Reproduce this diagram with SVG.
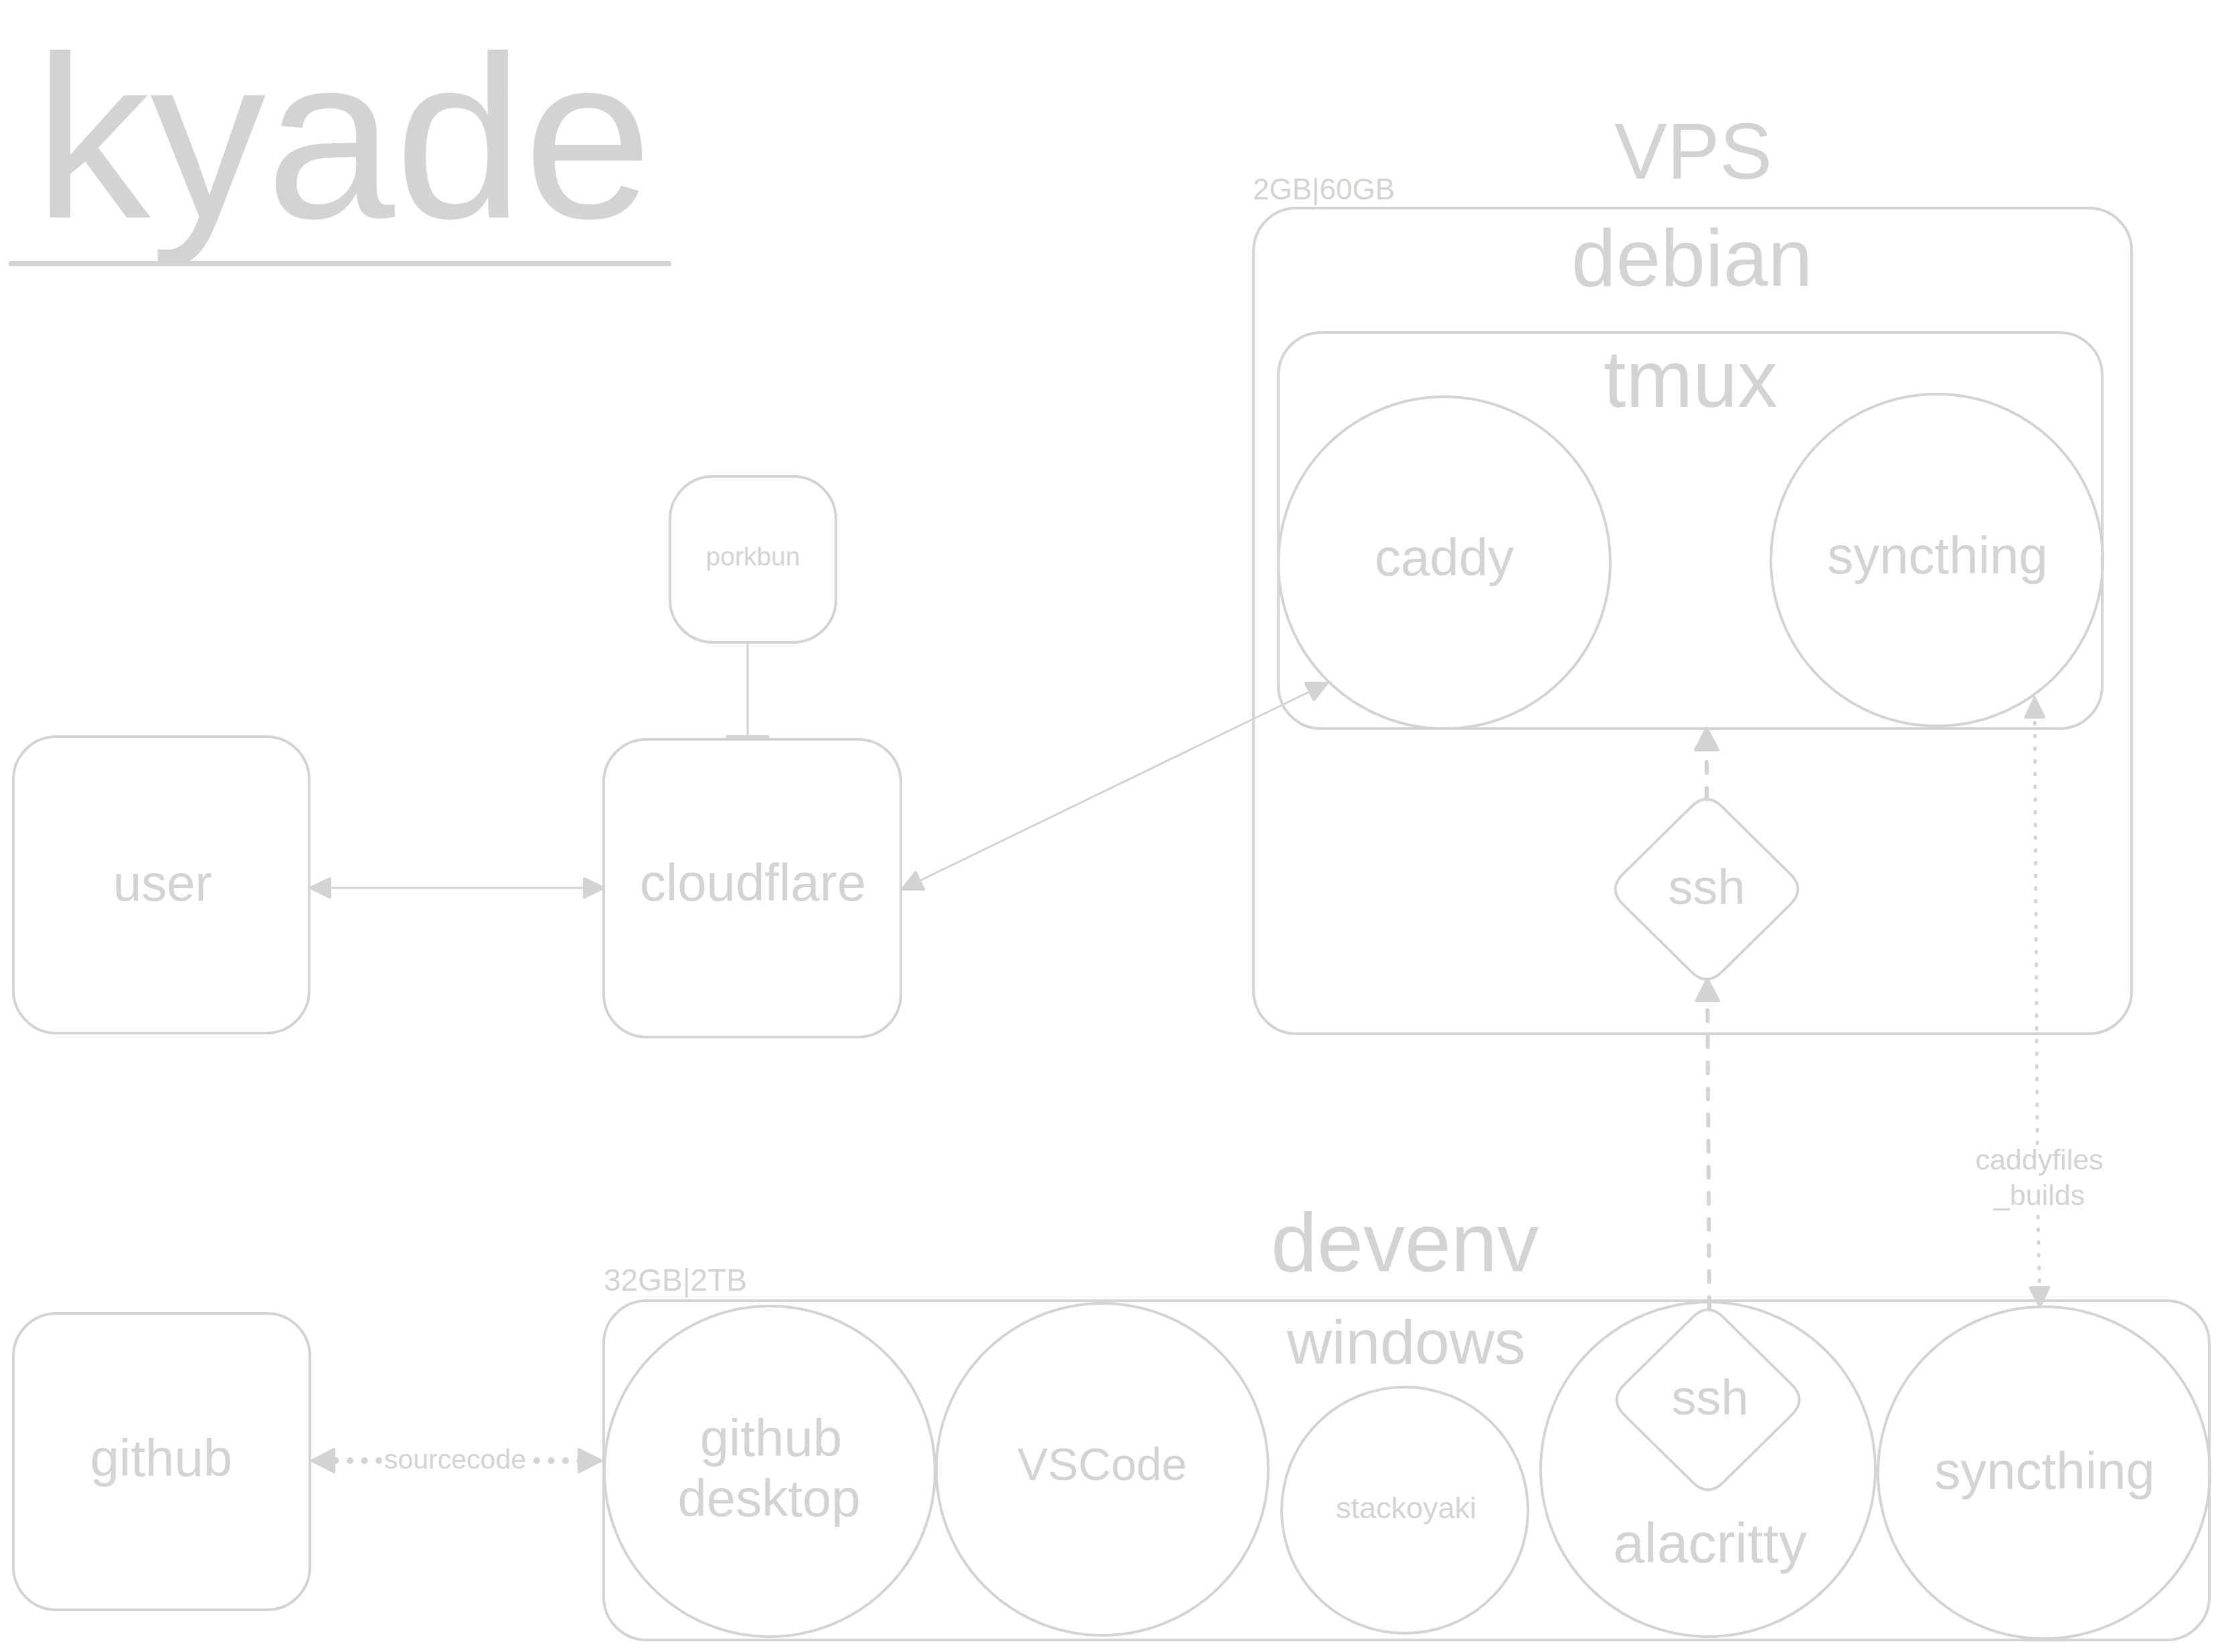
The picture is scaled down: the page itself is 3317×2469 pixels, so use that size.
<svg xmlns="http://www.w3.org/2000/svg" width="3317" height="2469" viewBox="0 0 3317 2469">
<style>
  .shape { fill: none; stroke: #d3d3d3; stroke-width: 4; }
  .t { fill: #d3d3d3; font-family: "Liberation Sans", Arial, sans-serif; text-anchor: middle; }
  .ts { fill: #d3d3d3; font-family: "Liberation Sans", Arial, sans-serif; text-anchor: start; }
  .thin { fill: none; stroke: #d3d3d3; stroke-width: 3; stroke-linecap: round; }
  .dash { fill: none; stroke: #d3d3d3; stroke-width: 6; stroke-linecap: round; stroke-dasharray: 16 23; }
  .dot { fill: none; stroke: #d3d3d3; stroke-width: 5; stroke-linecap: round; stroke-dasharray: 2 17; }
  .dotb { fill: none; stroke: #d3d3d3; stroke-width: 10; stroke-linecap: round; stroke-dasharray: 0 21.5; }
</style>
<defs>
  <marker id="ah" markerUnits="userSpaceOnUse" viewBox="0 0 36 36" refX="33" refY="18" markerWidth="36" markerHeight="36" orient="auto-start-reverse">
    <path d="M4,4 L33,18 L4,32 Z" fill="#d3d3d3" stroke="#d3d3d3" stroke-width="4" stroke-linejoin="round"/>
  </marker>
  <marker id="ahb" markerUnits="userSpaceOnUse" viewBox="0 0 40 40" refX="37" refY="20" markerWidth="40" markerHeight="40" orient="auto-start-reverse">
    <path d="M4,3 L37,20 L4,37 Z" fill="#d3d3d3" stroke="#d3d3d3" stroke-width="4" stroke-linejoin="round"/>
  </marker>
  <path id="diamond" d="M 23.1,-123.2 L 124.9,-22.8 Q 148,0 124.9,22.8 L 23.1,123.2 Q 0,146 -23.1,123.2 L -124.9,22.8 Q -148,0 -124.9,-22.8 L -23.1,-123.2 Q 0,-146 23.1,-123.2 Z"/>
</defs>
<rect width="3317" height="2469" fill="#ffffff"/>

<g id="title">
  <text class="t" x="513" y="325" font-size="346">kyade</text>
  <line x1="17" y1="394" x2="999" y2="394" stroke="#d3d3d3" stroke-width="8" stroke-linecap="round"/>
</g>

<g id="vps">
  <rect class="shape" x="1873" y="311" width="1312" height="1234" rx="64"/>
  <text class="t" x="2530" y="267" font-size="118">VPS</text>
  <text class="ts" x="1872" y="298" font-size="44">2GB|60GB</text>
  <text class="t" x="2528" y="427" font-size="120">debian</text>
</g>

<g id="tmux">
  <rect class="shape" x="1910" y="497" width="1231" height="592" rx="64"/>
  <text class="t" x="2526" y="608" font-size="120">tmux</text>
</g>

<g id="caddy">
  <circle class="shape" cx="2158" cy="841" r="248"/>
  <text class="t" x="2158" y="860" font-size="78">caddy</text>
</g>

<g id="syncthing-vps">
  <circle class="shape" cx="2894" cy="837" r="248"/>
  <text class="t" x="2895" y="857" font-size="78">syncthing</text>
</g>

<g id="ssh-vps">
  <use href="#diamond" class="shape" transform="translate(2550,1329)"/>
  <text class="t" x="2550" y="1351" font-size="74">ssh</text>
</g>

<g id="porkbun">
  <rect class="shape" x="1001" y="712" width="248" height="248" rx="64"/>
  <text class="t" x="1125" y="845" font-size="39">porkbun</text>
</g>

<g id="user">
  <rect class="shape" x="20" y="1101" width="442" height="443" rx="64"/>
  <text class="t" x="243" y="1346" font-size="76">user</text>
</g>

<g id="cloudflare">
  <rect class="shape" x="902" y="1105" width="444" height="445" rx="64"/>
  <text class="t" x="1125" y="1346" font-size="78">cloudflare</text>
</g>

<g id="github">
  <rect class="shape" x="20" y="1963" width="443" height="443" rx="64"/>
  <text class="t" x="241" y="2206" font-size="78">github</text>
</g>

<g id="devenv">
  <rect class="shape" x="902" y="1944" width="2399" height="507" rx="64"/>
  <text class="t" x="2099" y="1900" font-size="124">devenv</text>
  <text class="ts" x="902" y="1929" font-size="46">32GB|2TB</text>
  <text class="t" x="2101" y="2038" font-size="93">windows</text>
</g>

<g id="github-desktop">
  <circle class="shape" cx="1150" cy="2199" r="247"/>
  <text class="t" x="1152" y="2176" font-size="78">github</text>
  <text class="t" x="1149" y="2266" font-size="78">desktop</text>
</g>

<g id="vscode">
  <circle class="shape" cx="1647" cy="2196" r="248"/>
  <text class="t" x="1647" y="2212" font-size="68">VSCode</text>
</g>

<g id="stackoyaki">
  <circle class="shape" cx="2099" cy="2257" r="184"/>
  <text class="t" x="2101" y="2269" font-size="45">stackoyaki</text>
</g>

<g id="alacritty">
  <circle class="shape" cx="2552" cy="2196" r="250"/>
  <text class="t" x="2555" y="2335" font-size="84">alacritty</text>
</g>

<g id="ssh-devenv">
  <use href="#diamond" class="shape" transform="translate(2552,2092)"/>
  <text class="t" x="2555" y="2114" font-size="74">ssh</text>
</g>

<g id="syncthing-devenv">
  <circle class="shape" cx="3054" cy="2201" r="248"/>
  <text class="t" x="3055" y="2225" font-size="78">syncthing</text>
</g>

<g id="connectors">
  <path class="thin" d="M464,1327 L902,1327" marker-start="url(#ah)" marker-end="url(#ah)"/>
  <path class="thin" d="M1348,1329 L1983,1021" marker-start="url(#ah)" marker-end="url(#ah)"/>
  <path class="thin" d="M1117,961 L1117,1101"/>
  <line x1="1087" y1="1101" x2="1147" y2="1101" stroke="#d3d3d3" stroke-width="5" stroke-linecap="round"/>
  <path class="dash" d="M2550,1194 L2550,1088" marker-end="url(#ahb)"/>
  <path class="dash" d="M2554,1955 L2551,1463" marker-end="url(#ahb)"/>
  <path class="dot" d="M3044,1709 L3040,1043" marker-end="url(#ah)"/>
  <path class="dot" d="M3045,1818 L3048,1953" marker-end="url(#ah)"/>
  <text class="t" x="3047" y="1748" font-size="43">caddyfiles</text>
  <text class="t" x="3047" y="1801" font-size="43">_builds</text>
  <path class="dotb" d="M566,2183 L466,2183" marker-end="url(#ahb)"/>
  <path class="dotb" d="M802,2183 L898,2183" marker-end="url(#ahb)"/>
  <text class="t" x="680" y="2195" font-size="41">sourcecode</text>
</g>
</svg>
